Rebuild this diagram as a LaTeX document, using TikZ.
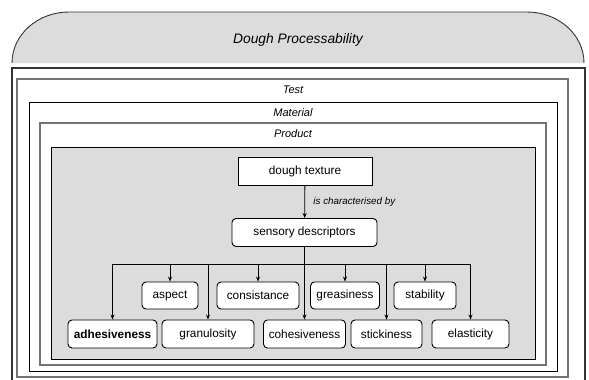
\documentclass[tikz,border=0pt]{standalone}
\usepackage{fontspec}
\setmainfont{Liberation Sans}
\usetikzlibrary{arrows.meta,positioning}

\definecolor{panelgray}{RGB}{220,220,220}

\tikzset{
    layer/.style={draw=#1, line width=1.1pt},
    layerlabel/.style={font=\fontsize{11}{13}\selectfont\itshape, inner sep=0pt},
    concept/.style={draw, fill=white, line width=0.9pt, minimum height=28pt,
        font=\fontsize{11.8}{14}\selectfont, inner sep=0pt},
    descriptor/.style={concept, rounded corners=4pt},
    link/.style={line width=0.8pt, -{Stealth[length=5pt,width=4pt]}}
}

\begin{document}
\begin{tikzpicture}[x=1pt,y=-1pt]
            \useasboundingbox (0,0) rectangle (589,380);
            % dome on top
            \fill[panelgray] (12,63) arc[start angle=180,end angle=270,x radius=57,y radius=51]
                -- (527,12) arc[start angle=270,end angle=360,x radius=57,y radius=51] -- cycle;
            \draw[line width=0.9pt, black!80] (12,63) arc[start angle=180,end angle=270,x radius=57,y radius=51]
                -- (527,12) arc[start angle=270,end angle=360,x radius=57,y radius=51];
            \node[font=\fontsize{13.8}{16}\selectfont\itshape] (processability) at (298,40) {Dough Processability};

            % nested boxes
            \draw[layer=black!80] (12,381) -- (12,68) -- (585,68) -- (585,381);
            \draw[layer=black!55] (17,79) rectangle (568,377);
            \draw[layer=black, line width=0.8pt] (29,102) rectangle (557,371);
            \draw[layer=black!55] (40,123) rectangle (546,365);
            \draw[fill=panelgray, line width=0.8pt] (51,147) rectangle (535,359);
            \node[layerlabel] (test) at (293,90) {Test};
            \node[layerlabel] (material) at (293,113) {Material};
            \node[layerlabel] (product) at (293,134) {Product};

            % concepts
            \node[concept, minimum width=134pt] (texture) at (305,171) {dough texture};
            \node[descriptor, minimum width=145pt] (sensory) at (304.5,232.5) {sensory descriptors};

            \node[descriptor, minimum width=56pt, minimum height=27pt] (aspect) at (170,295.5) {aspect};
            \node[descriptor, minimum width=82pt, minimum height=27pt] (consistance) at (258,295.5) {consistance};
            \node[descriptor, minimum width=69pt, minimum height=27pt] (greasiness) at (345,295.5) {greasiness};
            \node[descriptor, minimum width=62pt, minimum height=27pt] (stability) at (425,295.5) {stability};

            \node[descriptor, minimum width=89pt, font=\fontsize{11.8}{14}\selectfont\bfseries] (adhesiveness) at (112.5,334) {adhesiveness};
            \node[descriptor, minimum width=92pt] (granulosity) at (208,334) {granulosity};
            \node[descriptor, minimum width=82pt] (cohesiveness) at (304.5,334) {cohesiveness};
            \node[descriptor, minimum width=71pt] (stickiness) at (386.5,334) {stickiness};
            \node[descriptor, minimum width=77pt] (elasticity) at (470.5,334) {elasticity};

            % links
            \draw[link] (texture) -- node[right, xshift=5pt, font=\fontsize{9.8}{12}\selectfont\itshape] {is characterised by} (sensory);
            \foreach \d in {aspect,consistance,greasiness,stability,adhesiveness,granulosity,stickiness,elasticity}
                \draw[link] (sensory.south) -- ++(0,17) -| (\d.north);
            \draw[link] (sensory.south) -- (cohesiveness.north);
        \end{tikzpicture}
\end{document}
